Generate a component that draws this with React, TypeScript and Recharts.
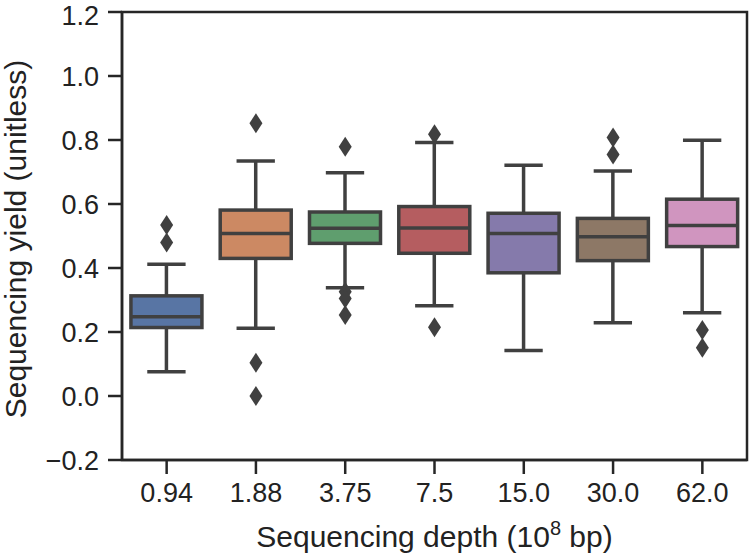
import React from 'react';
import { ComposedChart, Bar, Scatter, XAxis, YAxis, ReferenceArea } from 'recharts';

const DEPTHS = ['0.94', '1.88', '3.75', '7.5', '15.0', '30.0', '62.0'];
const WHISKER_LOW = [0.076, 0.212, 0.338, 0.282, 0.142, 0.229, 0.26];
const Q1 = [0.214, 0.43, 0.477, 0.446, 0.385, 0.423, 0.467];
const MEDIAN = [0.248, 0.508, 0.524, 0.525, 0.508, 0.498, 0.533];
const Q3 = [0.313, 0.581, 0.575, 0.592, 0.571, 0.555, 0.615];
const WHISKER_HIGH = [0.412, 0.734, 0.698, 0.792, 0.721, 0.703, 0.799];
const OUTLIERS = [
  [0.534, 0.48],
  [0.852, 0.104, 0.0],
  [0.779, 0.326, 0.305, 0.253],
  [0.818, 0.215],
  [],
  [0.808, 0.755],
  [0.206, 0.151],
];
const Y_TICKS = [-0.2, 0, 0.2, 0.4, 0.6, 0.8, 1.0, 1.2];

// seaborn "deep" palette at 0.75 saturation
const COLORS = ['#5875a4', '#cc8963', '#5f9e6e', '#b55d60', '#857aab', '#8d7866', '#d095bf'];

const LINE = '#404040';
const SPINE = '#262626';
const FONT = '"Liberation Sans", Arial, sans-serif';

const data = DEPTHS.map((depth, i) => ({
  depth,
  box: [Q1[i], Q3[i]],
  low: WHISKER_LOW[i],
  q1: Q1[i],
  median: MEDIAN[i],
  q3: Q3[i],
  high: WHISKER_HIGH[i],
  color: COLORS[i],
}));

const outlierData = DEPTHS.flatMap((depth, i) => OUTLIERS[i].map((value) => ({ depth, value })));

const BoxShape = (props: any) => {
  const { x, y, width, height, payload } = props;
  const top = Math.min(y, y + height);
  const h = Math.abs(height);
  const k = h / (payload.q3 - payload.q1);
  const toY = (v: number) => top + (payload.q3 - v) * k;
  const cx = x + width / 2;
  const cap = width * 0.27;
  return (
    <g>
      <line x1={cx} x2={cx} y1={toY(payload.high)} y2={top} stroke={LINE} strokeWidth={3.5} />
      <line x1={cx} x2={cx} y1={top + h} y2={toY(payload.low)} stroke={LINE} strokeWidth={3.5} />
      <line x1={cx - cap} x2={cx + cap} y1={toY(payload.high)} y2={toY(payload.high)} stroke={LINE} strokeWidth={3.5} />
      <line x1={cx - cap} x2={cx + cap} y1={toY(payload.low)} y2={toY(payload.low)} stroke={LINE} strokeWidth={3.5} />
      <rect x={x} y={top} width={width} height={h} fill={payload.color} stroke={LINE} strokeWidth={3.5} />
      <line x1={x} x2={x + width} y1={toY(payload.median)} y2={toY(payload.median)} stroke={LINE} strokeWidth={3.5} />
    </g>
  );
};

const Diamond = (props: any) => {
  const { cx, cy } = props;
  return <polygon points={`${cx},${cy - 10} ${cx + 6.5},${cy} ${cx},${cy + 10} ${cx - 6.5},${cy}`} fill={LINE} />;
};

const fmtY = (v: number) => (v < 0 ? '\u2212' + Math.abs(v).toFixed(1) : v.toFixed(1));

export default function App() {
  return (
    <div style={{ width: 750, height: 559 }}>
      <style>{'body{margin:0}'}</style>
      <ComposedChart
        width={750}
        height={559}
        data={data}
        margin={{ top: 12, right: 3, left: 0, bottom: 0 }}
        barCategoryGap="10%"
      >
        <XAxis
          dataKey="depth"
          allowDuplicatedCategory={false}
          height={99}
          tickSize={14}
          tickMargin={9}
          axisLine={{ stroke: SPINE, strokeWidth: 2.5 }}
          tickLine={{ stroke: SPINE, strokeWidth: 2.5 }}
          tick={{ fill: '#222', fontSize: 27, fontFamily: FONT }}
          label={({ viewBox }: any) => (
            <text
              x={viewBox.x + viewBox.width / 2}
              y={547}
              textAnchor="middle"
              fill="#222"
              fontSize={30}
              fontFamily={FONT}
            >
              Sequencing depth (10
              <tspan dy={-12} fontSize={20}>8</tspan>
              <tspan dy={12}> bp)</tspan>
            </text>
          )}
        />
        <YAxis
          type="number"
          domain={[-0.2, 1.2]}
          ticks={Y_TICKS}
          width={122}
          tickSize={14}
          tickMargin={9}
          tickFormatter={fmtY}
          axisLine={{ stroke: SPINE, strokeWidth: 2.5 }}
          tickLine={{ stroke: SPINE, strokeWidth: 2.5 }}
          tick={{ fill: '#222', fontSize: 27, fontFamily: FONT }}
          label={({ viewBox }: any) => (
            <text
              x={26}
              y={viewBox.y + viewBox.height / 2 + 3}
              transform={`rotate(-90, 26, ${viewBox.y + viewBox.height / 2 + 3})`}
              textAnchor="middle"
              fill="#222"
              fontSize={30}
              fontFamily={FONT}
            >
              Sequencing yield (unitless)
            </text>
          )}
        />
        <ReferenceArea y1={-0.2} y2={1.2} fill="none" stroke={SPINE} strokeWidth={2.5} fillOpacity={0} />
        <Bar dataKey="box" shape={BoxShape} isAnimationActive={false} />
        <Scatter data={outlierData} dataKey="value" shape={Diamond} isAnimationActive={false} />
      </ComposedChart>
    </div>
  );
}
